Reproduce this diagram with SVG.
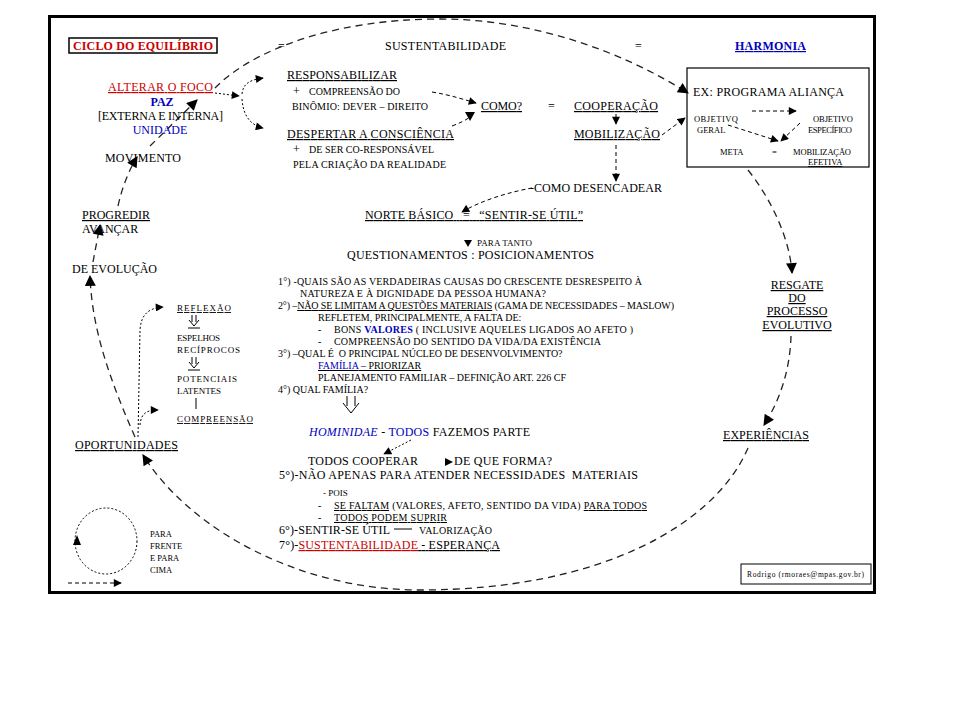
<svg xmlns="http://www.w3.org/2000/svg" width="960" height="720" viewBox="0 0 960 720" font-family="'Liberation Serif', 'DejaVu Serif', serif">
<style>
text{font-family:'Liberation Serif','DejaVu Serif',serif;fill:#000;}
.m{font-size:12px;}
.s{font-size:10px;}
.xs{font-size:9px;}
.bx{font-size:8.5px;}
.u{text-decoration:underline;}
.red{fill:#cc0000;}
.blue{fill:#0000bb;}
.b{font-weight:bold;}
.cyc{fill:none;stroke:#222;stroke-width:1.3;stroke-dasharray:7 5;}
.dot{fill:none;stroke:#000;stroke-width:1;stroke-dasharray:2 2;}
.dsh{fill:none;stroke:#000;stroke-width:1;stroke-dasharray:4 3;}
.sol{fill:none;stroke:#000;stroke-width:1;}
</style>
<defs>
<marker id="ahL" viewBox="0 0 10 10" refX="9" refY="5" markerWidth="13" markerHeight="11" markerUnits="userSpaceOnUse" orient="auto"><path d="M0,0 L10,5 L0,10 z" fill="#000"/></marker>
<marker id="ah" viewBox="0 0 10 10" refX="9" refY="5" markerWidth="9" markerHeight="8" markerUnits="userSpaceOnUse" orient="auto"><path d="M0,0 L10,5 L0,10 z" fill="#000"/></marker>
</defs>
<rect x="0" y="0" width="960" height="720" fill="#fff"/>
<rect x="49.5" y="16.5" width="825" height="576" fill="#fff" stroke="#000" stroke-width="3"/>

<g id="connectors">
<path class="cyc" d="M215,88 C250,52 330,19 440,19 C530,19 620,50 688,93" marker-end="url(#ahL)"/>
<path class="cyc" d="M748,170 C772,200 790,240 792,273" marker-end="url(#ahL)"/>
<path class="cyc" d="M791,336 C790,370 780,400 764,425" marker-end="url(#ahL)"/>
<path class="cyc" d="M748,448 C715,525 600,590 420,590 C300,590 190,530 143,455" marker-end="url(#ahL)"/>
<path class="cyc" d="M135,437 C110,380 92,330 90,276" marker-end="url(#ahL)"/>
<path class="cyc" d="M93,262 L100,225" marker-end="url(#ahL)"/>
<path class="cyc" d="M118,206 C122,188 128,172 137,157" marker-end="url(#ahL)"/>
<path class="cyc" d="M150,146 L197,100" marker-end="url(#ahL)"/>
<path class="dot" d="M215,93 L239,96" marker-end="url(#ah)"/>
<path class="dot" d="M242,94 C243,84 249,80 263,78" marker-end="url(#ah)"/>
<path class="dot" d="M242,99 C243,115 250,125 263,128" marker-end="url(#ah)"/>
<path class="dsh" d="M432,92 C450,95 462,99 476,103" marker-end="url(#ah)"/>
<path class="dsh" d="M452,126 C460,123 466,120 470,117"/>
<polygon points="465,112 475,112 470,121" fill="#000"/>
<path class="sol" d="M616,114 L616,124" marker-end="url(#ah)"/>
<path class="dsh" d="M662,135 L685,118" marker-end="url(#ah)"/>
<path class="dsh" d="M616,145 L616,181" marker-end="url(#ah)"/>
<path class="dsh" d="M532,188 C510,192 482,200 462,212" marker-end="url(#ah)"/>
<path class="dsh" d="M752,111 L796,111" marker-end="url(#ah)"/>
<path class="dsh" d="M728,125 L778,141" marker-end="url(#ah)"/>
<path class="dsh" d="M800,123 L781,141" marker-end="url(#ah)"/>
<polygon points="464,240 472,240 468,247" fill="#000"/>
<path class="dot" d="M411,440 L384,454" marker-end="url(#ah)"/>
<polygon points="445,458 453,462 445,466" fill="#000"/>
<path class="sol" d="M394,529 L412,529"/>
<path class="dot" d="M138,437 L140,330 C141,315 148,308 163,307" marker-end="url(#ah)"/>
<path class="dot" d="M140,425 C141,413 147,410 158,410" marker-end="url(#ah)"/>
<path class="sol" d="M192,315 L192,322 M196,315 L196,322 M189,320 L194,326 L199,320 M188,328 L200,328"/>
<path class="sol" d="M192,357 L192,364 M196,357 L196,364 M189,362 L194,368 L199,362 M188,370 L200,370"/>
<path class="sol" d="M196,398 L196,409"/>
<path class="sol" d="M347,396 L347,406 M355,396 L355,406 M343,403 L351,413 L359,403"/>
<ellipse class="dot" cx="106" cy="541" rx="31" ry="33"/>
<polygon points="73,545 81,545 77,535" fill="#000"/>
<path class="dsh" d="M68,583 L121,583" marker-end="url(#ah)"/>
</g>

<g id="title">
<rect x="69" y="38" width="148" height="15" fill="#fff" stroke="#000" stroke-width="1.5"/>
<text x="73" y="50" class="m b red" textLength="140">CICLO DO EQUILÍBRIO</text>
</g>
<g id="header">
<text x="278" y="50" class="m">=</text>
<text x="385" y="50" class="m" textLength="121">SUSTENTABILIDADE</text>
<text x="635" y="50" class="m">=</text>
<text x="735" y="50" class="m b blue u" textLength="71">HARMONIA</text>
</g>
<g id="n-foco">
<text x="108" y="91" class="m red u" textLength="105">ALTERAR O FOCO</text>
<text x="162" y="106" class="m b blue" text-anchor="middle">PAZ</text>
<text x="98" y="120" class="m" textLength="125">[EXTERNA E INTERNA]</text>
<text x="160" y="134" class="m blue" text-anchor="middle">UNIDADE</text>
</g>
<g id="n-movimento"><text x="105" y="162" class="m" textLength="76">MOVIMENTO</text></g>
<g id="n-progredir">
<text x="82" y="219" class="m u">PROGREDIR</text>
<text x="82" y="233" class="m">AVANÇAR</text>
</g>
<g id="n-evolucao"><text x="72" y="273" class="m">DE EVOLUÇÃO</text></g>
<g id="n-oportunidades"><text x="75" y="449" class="m u" textLength="103">OPORTUNIDADES</text></g>
<g id="n-reflexao">
<text x="177" y="311" class="xs u" textLength="54">REFLEXÃO</text>
<text x="177" y="341" class="xs" textLength="43">ESPELHOS</text>
<text x="177" y="353" class="xs" textLength="63">RECÍPROCOS</text>
<text x="177" y="382" class="xs" textLength="60">POTENCIAIS</text>
<text x="177" y="394" class="xs" textLength="44">LATENTES</text>
<text x="177" y="422" class="xs u" textLength="76">COMPREENSÃO</text>
</g>
<g id="n-responsabilizar">
<text x="287" y="79" class="m u" textLength="110">RESPONSABILIZAR</text>
<text x="293" y="95" class="m">+</text>
<text x="309" y="95" class="s" textLength="91">COMPREENSÃO DO</text>
<text x="292" y="110" class="s" textLength="136">BINÔMIO: DEVER – DIREITO</text>
</g>
<g id="n-despertar">
<text x="287" y="138" class="m u" textLength="167">DESPERTAR A CONSCIÊNCIA</text>
<text x="293" y="153" class="m">+</text>
<text x="309" y="153" class="s" textLength="125">DE SER CO-RESPONSÁVEL</text>
<text x="293" y="168" class="s" textLength="153">PELA CRIAÇÃO DA REALIDADE</text>
</g>
<g id="n-como">
<text x="481" y="110" class="m u" textLength="41">COMO?</text>
<text x="548" y="110" class="m">=</text>
<text x="574" y="110" class="m u" textLength="84">COOPERAÇÃO</text>
</g>
<g id="n-mobilizacao"><text x="574" y="138" class="m u" textLength="86">MOBILIZAÇÃO</text></g>
<g id="n-desencadear"><text x="530" y="192" class="m" textLength="132">-COMO DESENCADEAR</text></g>
<g id="n-programa">
<rect x="687" y="68" width="182" height="99" fill="none" stroke="#000" stroke-width="1.2"/>
<text x="693" y="96" class="m" textLength="151">EX: PROGRAMA ALIANÇA</text>
<text x="694" y="122" class="bx" textLength="44">OBJETIVQ</text>
<text x="697" y="133" class="bx">GERAL</text>
<text x="813" y="122" class="bx" textLength="40">OBJETIVO</text>
<text x="808" y="133" class="bx" textLength="44">ESPECÍFICO</text>
<text x="720" y="155" class="bx">META</text>
<text x="772" y="155" class="bx">=</text>
<text x="793" y="155" class="bx" textLength="58">MOBILIZAÇÃO</text>
<text x="808" y="165" class="bx u">EFETIVA</text>
</g>
<g id="n-norte">
<text x="365" y="219" class="m u" textLength="218" xml:space="preserve">NORTE BÁSICO   =   “SENTIR-SE ÚTIL”</text>
<text x="477" y="246" class="xs" textLength="55">PARA TANTO</text>
<text x="347" y="259" class="m" textLength="247">QUESTIONAMENTOS : POSICIONAMENTOS</text>
</g>
<g id="n-questoes">
<text x="278" y="285" class="s" textLength="364">1°) -QUAIS SÃO AS VERDADEIRAS CAUSAS DO CRESCENTE DESRESPEITO À</text>
<text x="300" y="297" class="s" textLength="246">NATUREZA E À DIGNIDADE DA PESSOA HUMANA?</text>
<text x="278" y="309" class="s" textLength="396">2°) –<tspan class="u">NÃO SE LIMITAM A QUESTÕES MATERIAIS</tspan> (GAMA DE NECESSIDADES – MASLOW)</text>
<text x="318" y="321" class="s">REFLETEM, PRINCIPALMENTE, A FALTA DE:</text>
<text x="318" y="333" class="s">-</text>
<text x="334" y="333" class="s" textLength="299">BONS <tspan class="b blue">VALORES</tspan> ( INCLUSIVE AQUELES LIGADOS AO AFETO )</text>
<text x="318" y="345" class="s">-</text>
<text x="334" y="345" class="s" textLength="267">COMPREENSÃO DO SENTIDO DA VIDA/DA EXISTÊNCIA</text>
<text x="278" y="357" class="s" xml:space="preserve">3°) –QUAL É  O PRINCIPAL NÚCLEO DE DESENVOLVIMENTO?</text>
<text x="318" y="369" class="s u"><tspan class="blue">FAMÍLIA</tspan> – PRIORIZAR</text>
<text x="318" y="381" class="s">PLANEJAMENTO FAMILIAR – DEFINIÇÃO ART. 226 CF</text>
<text x="278" y="393" class="s">4°) QUAL FAMÍLIA?</text>
</g>
<g id="n-hominidae">
<text x="309" y="436" class="m" textLength="221"><tspan class="blue" font-style="italic">HOMINIDAE</tspan> - <tspan class="blue">TODOS</tspan> FAZEMOS PARTE</text>
</g>
<g id="n-cooperar">
<text x="308" y="465" class="m" textLength="110">TODOS COOPERAR</text>
<text x="454" y="465" class="m" textLength="98">DE QUE FORMA?</text>
</g>
<g id="n-apenas">
<text x="279" y="479" class="m" textLength="359" xml:space="preserve">5°)-NÃO APENAS PARA ATENDER NECESSIDADES  MATERIAIS</text>
<text x="323" y="496" class="xs">- POIS</text>
<text x="318" y="509" class="s">-</text>
<text x="334" y="509" class="s" textLength="313"><tspan class="u">SE FALTAM</tspan> (VALORES, AFETO, SENTIDO DA VIDA) <tspan class="u">PARA TODOS</tspan></text>
<text x="318" y="521" class="s">-</text>
<text x="334" y="521" class="s u" textLength="113">TODOS PODEM SUPRIR</text>
</g>
<g id="n-sentir">
<text x="279" y="534" class="m" textLength="111">6°)-SENTIR-SE ÚTIL</text>
<text x="419" y="534" class="s" textLength="73">VALORIZAÇÃO</text>
<text x="279" y="549" class="m" textLength="221">7°)-<tspan class="red u">SUSTENTABILIDADE</tspan><tspan class="u"> - ESPERANÇA</tspan></text>
</g>
<g id="n-resgate">
<text x="797" y="289" class="m u" text-anchor="middle">RESGATE</text>
<text x="797" y="302" class="m u" text-anchor="middle">DO</text>
<text x="797" y="315" class="m u" text-anchor="middle">PROCESSO</text>
<text x="797" y="329" class="m u" text-anchor="middle">EVOLUTIVO</text>
</g>
<g id="n-experiencias"><text x="723" y="439" class="m u" textLength="86">EXPERIÊNCIAS</text></g>
<g id="n-legenda">
<text x="150" y="537" class="bx">PARA</text>
<text x="150" y="549" class="bx">FRENTE</text>
<text x="150" y="561" class="bx">E PARA</text>
<text x="150" y="573" class="bx">CIMA</text>
</g>
<g id="n-autor">
<rect x="741" y="564" width="130" height="20" fill="#fff" stroke="#000" stroke-width="1"/>
<text x="747" y="577" font-size="7.5" textLength="117">Rodrigo (rmoraes@mpas.gov.br)</text>
</g>
</svg>
